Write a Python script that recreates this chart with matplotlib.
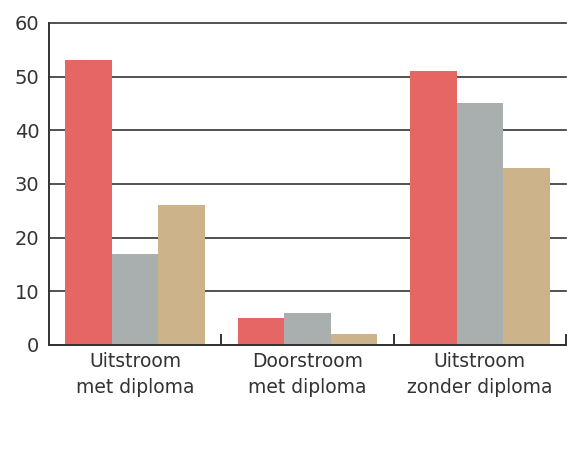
import numpy as np
import matplotlib
matplotlib.use('Agg')
import matplotlib.pyplot as plt

categories = ['Uitstroom\nmet diploma', 'Doorstroom\nmet diploma', 'Uitstroom\nzonder diploma']
serie_rood = [53, 5, 51]
serie_grijs = [17, 6, 45]
serie_zand = [26, 2, 33]
kleuren = ['#E66664', '#A8AFAE', '#CDB38A']
yticks = [0, 10, 20, 30, 40, 50, 60]

plt.rcParams['font.family'] = ['DejaVu Sans']
fig = plt.figure(figsize=(5.67, 4.68), dpi=100)
ax = fig.add_axes([0.0864, 0.263, 0.912, 0.688])

x = np.arange(len(categories))
w = 0.27
for i, (vals, c) in enumerate(zip([serie_rood, serie_grijs, serie_zand], kleuren)):
    ax.bar(x + (i - 1) * w, vals, width=w, color=c, zorder=3, linewidth=0)

ax.set_xlim(-0.5, 2.5)
ax.set_ylim(0, 60)
ax.set_yticks(yticks)
ax.grid(axis='y', color='#333333', linewidth=1.2, zorder=0, clip_on=False)
for s in ['top', 'right']:
    ax.spines[s].set_visible(False)
for s in ['left', 'bottom']:
    ax.spines[s].set_color('#333333')
    ax.spines[s].set_linewidth(1.4)
    ax.spines[s].set_zorder(4)

ax.tick_params(axis='y', length=0, pad=7, labelsize=14, labelcolor='#333333')
ax.set_xticks([0.5, 1.5, 2.5])
ax.set_xticklabels([])
ax.tick_params(axis='x', which='major', direction='in', length=8, width=1.4, color='#333333')
ax.set_xticks(x, minor=True)
ax.set_xticklabels(categories, minor=True, linespacing=1.45)
ax.tick_params(axis='x', which='minor', length=0, pad=5, labelsize=13.5, labelcolor='#333333')

fig.savefig('out.png', dpi=100)
